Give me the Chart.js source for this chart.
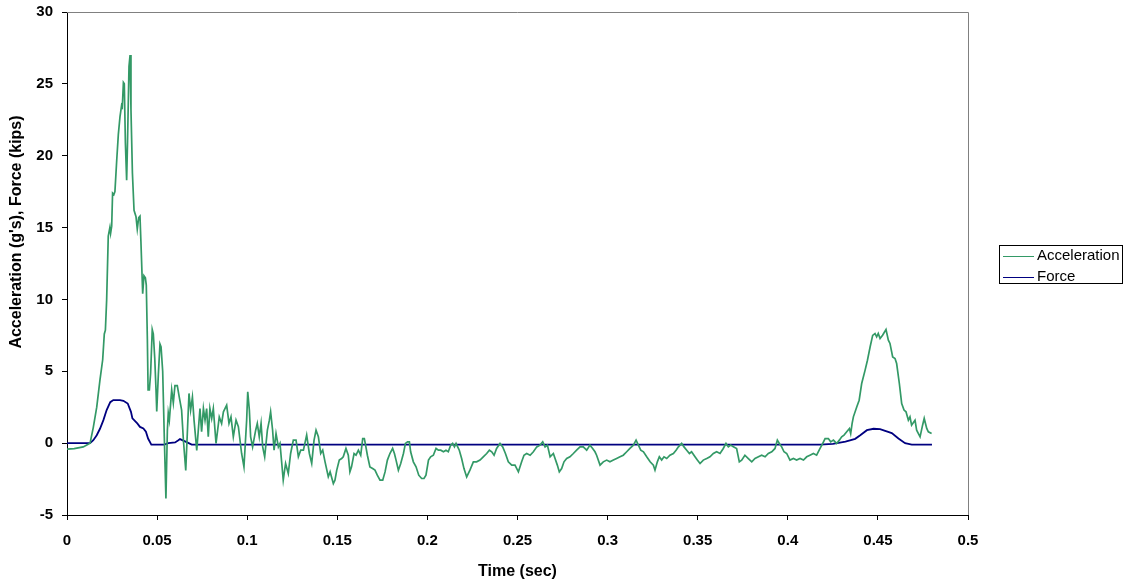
<!DOCTYPE html>
<html>
<head>
<meta charset="utf-8">
<script src="https://cdn.jsdelivr.net/npm/chart.js@4.4.1/dist/chart.umd.min.js"></script>
<style>
  body { margin: 0; background: #fff; }
  #wrap { position: relative; width: 1128px; height: 583px; }
  #legend {
    position: absolute; left: 999px; top: 245px; width: 122px; height: 37px;
    border: 1px solid #000; background: #fff;
    font-family: "Liberation Sans", Arial, sans-serif; font-size: 15px; color: #000;
  }
  .item { position: absolute; left: 3px; height: 18px; line-height: 18px; white-space: nowrap; }
  .item span.swatch { display: inline-block; width: 31px; height: 0; vertical-align: middle; margin-right: 3px; }
</style>
</head>
<body>
<div id="wrap">
  <canvas id="grafico" width="1128" height="583"></canvas>
  <div id="legend"></div>
</div>
<script>
// data (time in sec)
const accTime = [0, 0.004, 0.009, 0.0128, 0.0146, 0.0165, 0.0183, 0.0198, 0.0207, 0.0213, 0.022, 0.0229, 0.0238, 0.0242, 0.0248,
  0.0253, 0.026, 0.0266, 0.0276, 0.0285, 0.0294, 0.0303, 0.0307, 0.0313, 0.0318, 0.0324, 0.0331, 0.0336, 0.0344, 0.035,
  0.0355, 0.0363, 0.0372, 0.0383, 0.039, 0.0398, 0.0405, 0.041, 0.042, 0.0427, 0.0435, 0.044, 0.0446, 0.045, 0.0457,
  0.0464, 0.0473, 0.0479, 0.0487, 0.0494, 0.0498, 0.0507, 0.0516, 0.0522, 0.0531, 0.054, 0.0549, 0.0557, 0.0562, 0.0568,
  0.0581, 0.059, 0.0599, 0.0612, 0.0623, 0.0636, 0.0646, 0.0659, 0.0677, 0.0686, 0.0696, 0.0705, 0.072,
  0.0738, 0.0747, 0.0757, 0.0766, 0.0775, 0.0784, 0.0793, 0.0803, 0.0812, 0.0827, 0.0845, 0.0858, 0.0868, 0.0886, 0.0899,
  0.091, 0.0923, 0.0938, 0.0951, 0.0969, 0.0982, 0.0997, 0.1003, 0.1012, 0.1019, 0.103, 0.1047, 0.1056, 0.1067, 0.1077,
  0.1086, 0.1097, 0.1112, 0.1123, 0.113, 0.1141, 0.1149, 0.116, 0.1173, 0.1182, 0.12, 0.1213, 0.1228, 0.1241, 0.1256,
  0.1271, 0.1284, 0.1297, 0.1312, 0.133, 0.1345, 0.1358, 0.1371, 0.1382, 0.1395, 0.1408, 0.1419, 0.1432, 0.145, 0.146,
  0.1478, 0.1487, 0.1497, 0.1511, 0.1524, 0.1533, 0.1548, 0.1561, 0.157, 0.1579, 0.1593, 0.1604, 0.1617, 0.163, 0.1641,
  0.165, 0.1657, 0.1667, 0.1681, 0.1696, 0.1709, 0.1722, 0.1737, 0.1752, 0.1765, 0.1778, 0.1792, 0.1807, 0.1817, 0.1826,
  0.1839, 0.1852, 0.1867, 0.1878, 0.189, 0.19, 0.1907, 0.1922, 0.1937, 0.1952, 0.1968, 0.1981, 0.1992, 0.2006, 0.2018,
  0.2033, 0.2048, 0.2061, 0.2074, 0.2089, 0.2103, 0.2116, 0.2129, 0.214, 0.215, 0.2159, 0.2168, 0.2177, 0.219, 0.2203,
  0.2218, 0.2236, 0.2255, 0.2273, 0.2292, 0.231, 0.2329, 0.2344, 0.2357, 0.237, 0.2384, 0.2403, 0.2418, 0.2433, 0.2449,
  0.2468, 0.2486, 0.2505, 0.2523, 0.2536, 0.2551, 0.257, 0.2588, 0.2607, 0.2625, 0.264, 0.2653, 0.2666, 0.2681, 0.2699,
  0.2721, 0.2732, 0.2745, 0.2758, 0.2773, 0.2791, 0.281, 0.2828, 0.2847, 0.2865, 0.2884, 0.2902, 0.2917, 0.293, 0.2939,
  0.2958, 0.2976, 0.2995, 0.3013, 0.3032, 0.305, 0.3069, 0.3087, 0.3106, 0.3124, 0.3143, 0.3158, 0.3171, 0.3184, 0.3199,
  0.3217, 0.3236, 0.3254, 0.3263, 0.3276, 0.3287, 0.33, 0.3313, 0.3328, 0.3346, 0.3365, 0.338, 0.3393, 0.3411, 0.3424,
  0.3439, 0.3454, 0.3466, 0.3485, 0.3498, 0.3513, 0.3531, 0.355, 0.3568, 0.3587, 0.3605, 0.3624, 0.3642, 0.3657, 0.367,
  0.3683, 0.3698, 0.3716, 0.3731, 0.3744, 0.3762, 0.3781, 0.38, 0.3818, 0.3837, 0.3855, 0.3874, 0.3892, 0.3911, 0.3929,
  0.3942, 0.3953, 0.3966, 0.3979, 0.3994, 0.4012, 0.4031, 0.4049, 0.4068, 0.4087, 0.4105, 0.4123, 0.4142, 0.416, 0.4179,
  0.4194, 0.4207, 0.4225, 0.4238, 0.4253, 0.4271, 0.4286, 0.4299, 0.4312, 0.4327, 0.4342, 0.4349, 0.4357, 0.4364, 0.4383,
  0.4396, 0.441, 0.4429, 0.4442, 0.4457, 0.4471, 0.4484, 0.4493, 0.4502, 0.4512, 0.4526, 0.4545, 0.4558, 0.4567, 0.4582,
  0.4595, 0.4604, 0.4619, 0.4632, 0.4645, 0.4656, 0.4669, 0.4678, 0.4687, 0.4706, 0.4715, 0.4734, 0.4748, 0.4757, 0.4771,
  0.478, 0.4798];

const accValues = [-0.42, -0.38, -0.26, 0.0, 1.1, 2.5, 4.4, 5.8, 7.6, 7.86, 9.95, 14.4, 15.0, 14.6, 15.1,
  17.4, 17.3, 17.5, 19.7, 21.5, 22.7, 23.5, 23.4, 25.1, 25.0, 20.9, 18.3, 21.0, 26.2, 27.0,
  23.2, 18.8, 16.2, 15.75, 14.9, 15.7, 15.8, 14.1, 10.4, 11.65, 11.5, 11.0, 7.2, 3.7, 3.7,
  4.85, 7.9, 7.6, 5.9, 3.7, 2.2, 4.8, 6.9, 6.7, 5.0, 0.4, -3.85, 0.9, 2.1, 1.6,
  3.7, 2.8, 4.0, 4.0, 3.2, 2.3, 0.2, -1.9, 3.46, 2.3, 3.2, 1.6, -0.5,
  2.41, 0.79, 2.41, 1.6, 2.41, 0.44, 2.41, 1.72, 2.41, -0.02, 1.83, 1.37, 2.18, 2.64, 1.37,
  1.83, 0.44, 1.6, 1.14, -0.72, -1.65, 1.6, 3.57, 2.3, 0.44, -0.26, 0.9, 1.37, 0.44, 1.37,
  -0.26, -0.95, 0.9, 1.6, 2.18, 0.9, -0.49, 0.67, -0.26, -0.02, -2.57, -1.41, -2.11, -0.72, 0.21,
  0.21, -0.95, -0.49, -0.49, 0.56, -0.72, -1.41, 0.21, 0.9, 0.44, -0.72, -0.49, -1.3, -2.34, -2.0,
  -2.81, -2.58, -1.88, -1.18, -1.07, -0.95, -0.37, -0.84, -2.0, -1.65, -0.72, -0.84, -0.49, -0.84, 0.32,
  0.32, -0.14, -0.84, -1.65, -1.77, -1.88, -2.23, -2.58, -2.58, -2.0, -1.18, -0.72, -0.37, -0.72, -1.18,
  -1.88, -1.42, -0.72, -0.02, 0.09, 0.09, -0.6, -1.3, -1.65, -2.23, -2.46, -2.46, -2.23, -1.18, -0.95,
  -0.84, -0.37, -0.49, -0.49, -0.6, -0.49, -0.6, -0.14, -0.02, -0.26, -0.02, -0.26, -0.49, -1.07, -1.77,
  -2.35, -1.88, -1.3, -1.3, -1.18, -0.95, -0.72, -0.49, -0.6, -0.84, -0.37, -0.02, -0.26, -0.72, -1.3,
  -1.53, -1.53, -2.0, -1.3, -0.84, -0.72, -0.84, -0.6, -0.26, -0.14, 0.09, -0.26, -0.14, -0.95, -0.72,
  -1.53, -2.0, -1.77, -1.3, -1.07, -0.95, -0.72, -0.49, -0.26, -0.26, -0.49, -0.14, -0.37, -0.6, -0.84,
  -1.53, -1.3, -1.18, -1.3, -1.18, -1.07, -0.95, -0.84, -0.6, -0.37, -0.14, 0.21, -0.14, -0.49, -0.6,
  -0.95, -1.3, -1.53, -1.88, -1.3, -0.95, -1.18, -0.95, -1.07, -0.84, -0.72, -0.49, -0.26, -0.02, -0.26,
  -0.49, -0.72, -0.6, -0.95, -1.18, -1.42, -1.18, -1.07, -0.95, -0.72, -0.6, -0.72, -0.37, -0.02, -0.26,
  -0.14, -0.26, -0.37, -1.3, -1.18, -0.84, -1.07, -1.3, -1.07, -0.95, -0.84, -0.95, -0.72, -0.6, -0.37,
  0.21, -0.02, -0.26, -0.6, -0.72, -1.18, -1.07, -1.18, -1.07, -1.18, -0.95, -0.84, -0.72, -0.84, -0.37,
  -0.02, 0.32, 0.32, 0.09, 0.21, -0.02, 0.21, 0.44, 0.56, 0.79, 1.02, 0.67, 1.37, 1.83, 2.53,
  2.99, 4.15, 5.08, 5.77, 6.71, 7.5, 7.63, 7.4, 7.63, 7.28, 7.51, 7.91, 7.17, 6.94, 6.0,
  5.89, 5.54, 4.15, 2.76, 2.3, 2.18, 1.6, 1.83, 1.25, 1.6, 0.9, 0.44, 1.25, 1.72, 1.02,
  0.79, 0.67];

const forceTime = [0, 0.0128, 0.0146, 0.0165, 0.0183, 0.0202, 0.022, 0.024, 0.0257, 0.0294, 0.0313, 0.0337, 0.0355,
  0.0363, 0.039, 0.0405, 0.0424, 0.0438, 0.045, 0.0468, 0.054, 0.0562, 0.06, 0.0618, 0.0627, 0.0664, 0.0692,
  0.4179, 0.425, 0.432, 0.4374, 0.4402, 0.4439, 0.4476, 0.4512, 0.4577, 0.4614, 0.4651, 0.4688, 0.48];
const forceValues = [0, 0, 0.2, 0.55, 1.0, 1.6, 2.3, 2.85, 3.0, 3.0, 2.95, 2.76, 2.18,
  1.72, 1.37, 1.13, 1.02, 0.79, 0.32, -0.1, -0.1, 0.0, 0.05, 0.2, 0.28, 0.07, -0.1,
  -0.1, -0.05, 0.1, 0.3, 0.55, 0.9, 1.0, 0.98, 0.7, 0.32, 0.0, -0.1, -0.1];

const seriesNames = ['Acceleration', 'Force'];
const seriesColors = ['#339966', '#000080'];
const xTickLabels = ['0', '0.05', '0.1', '0.15', '0.2', '0.25', '0.3', '0.35', '0.4', '0.45', '0.5'];
const yTickLabels = ['-5', '0', '5', '10', '15', '20', '25', '30'];
const yTitle = "Acceleration (g's), Force (kips)";

const FONT = '"Liberation Sans", Arial, sans-serif';
Chart.defaults.font.family = FONT;
Chart.defaults.color = '#000';

function toPoints(xs, ys) {
  return xs.map((x, i) => ({ x: x, y: ys[i] }));
}

// gray border on top and right of the plot area, plus the y title
// (Excel centres it on the whole chart, not on the axis)
const plotFrame = {
  id: 'plotFrame',
  beforeDatasetsDraw(chart) {
    const { ctx, chartArea: a } = chart;
    ctx.save();
    ctx.strokeStyle = '#808080';
    ctx.lineWidth = 1;
    ctx.beginPath();
    ctx.moveTo(a.left, a.top + 0.5);
    ctx.lineTo(a.right + 0.5, a.top + 0.5);
    ctx.lineTo(a.right + 0.5, a.bottom);
    ctx.stroke();
    ctx.restore();
  },
  afterDraw(chart) {
    const ctx = chart.ctx;
    ctx.save();
    ctx.translate(17, 232);
    ctx.rotate(-Math.PI / 2);
    ctx.font = 'bold 16px ' + FONT;
    ctx.fillStyle = '#000';
    ctx.textAlign = 'center';
    ctx.textBaseline = 'middle';
    ctx.fillText(yTitle, 0, 0);
    ctx.restore();
  }
};

const ctx = document.getElementById('grafico');

const chart = new Chart(ctx, {
  type: 'line',
  data: {
    datasets: [{
      label: seriesNames[0],
      data: toPoints(accTime, accValues),
      borderColor: seriesColors[0],
      borderWidth: 1.7,
      pointRadius: 0,
      tension: 0
    }, {
      label: seriesNames[1],
      data: toPoints(forceTime, forceValues),
      borderColor: seriesColors[1],
      borderWidth: 1.8,
      pointRadius: 0,
      tension: 0
    }]
  },
  options: {
    responsive: false,
    animation: false,
    devicePixelRatio: 1,
    layout: { padding: { top: 12, right: 160, left: 0, bottom: 0 } },
    plugins: { legend: { display: false }, tooltip: { enabled: false } },
    scales: {
      x: {
        type: 'linear',
        min: 0, max: 0.5,
        afterFit(s) { s.height = 68; s.paddingLeft = 0; s.paddingRight = 0; },
        border: { color: '#000', width: 1 },
        grid: { drawOnChartArea: false, drawTicks: true, tickLength: 5, color: '#000' },
        ticks: {
          stepSize: 0.05, padding: 12, maxRotation: 0, autoSkip: false,
          font: { size: 15, weight: 'bold' },
          callback: (v, i) => xTickLabels[i]
        },
        title: { display: true, text: 'Time (sec)', font: { size: 16, weight: 'bold' }, padding: { bottom: 2, top: 0 } }
      },
      y: {
        min: -5, max: 30,
        afterFit(s) { s.width = 67; s.paddingTop = 0; s.paddingBottom = 0; },
        border: { color: '#000', width: 1 },
        grid: { drawOnChartArea: false, drawTicks: true, tickLength: 5, color: '#000' },
        ticks: {
          stepSize: 5, padding: 9,
          font: { size: 15, weight: 'bold' },
          callback: (v, i) => yTickLabels[i]
        }
      }
    }
  },
  plugins: [plotFrame]
});

// legend box
const legend = document.getElementById('legend');
seriesNames.forEach((name, i) => {
  const row = document.createElement('div');
  row.className = 'item';
  row.style.top = (i === 0 ? 0 : 21) + 'px';
  row.innerHTML = '<span class="swatch" style="border-top:1.5px solid ' + seriesColors[i] + '"></span>' + name;
  legend.appendChild(row);
});
</script>
</body>
</html>
